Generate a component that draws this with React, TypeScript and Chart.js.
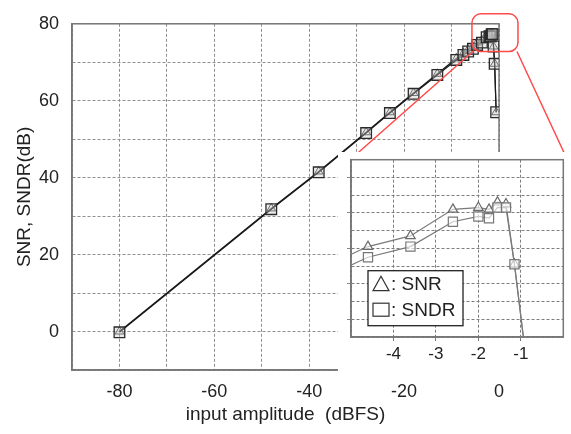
import React, { useEffect, useRef } from "react";
import { Chart, registerables } from "chart.js";

Chart.register(...registerables);

// ---- data ----
const inputDbfs = [-80, -48, -38, -28, -23, -18, -13, -9, -7.5, -6.5, -5.5, -4.6, -3.6, -2.6, -2.0, -1.75, -1.55, -1.35, -1.15, -0.92, -0.6];
const snrDb = [0, 32, 41.6, 51.8, 57, 62, 67, 71, 72.4, 73.3, 74.1, 75.1, 75.7, 77.2, 77.3, 77.2, 77.6, 77.5, 74.1, 69.6, 57];
const sndrDb = [-0.2, 31.8, 41.4, 51.6, 56.8, 61.8, 66.7, 70.6, 71.9, 72.8, 73.5, 74.5, 75.1, 76.5, 76.8, 76.7, 77.3, 77.3, 74.1, 69.6, 57];

const mainXTickLabels = [-80, -60, -40, -20, 0];
const mainYTickLabels = [0, 20, 40, 60, 80];
const insetXTickLabels = [-4, -3, -2, -1];
const legendLabels = [": SNR", ": SNDR"];

const FONT = "'Liberation Sans', Arial, Helvetica, sans-serif";
const INSET_LEFT = 338;
const INSET_TOP = 152;
const INSET_W = 233;
const INSET_H = 220;

const toPoints = (ys: number[]) => inputDbfs.map((x, i) => ({ x, y: ys[i] }));

const framePlugin = (color: string, width: number) => ({
  id: "frame",
  beforeDatasetsDraw(chart: any) {
    const { ctx, chartArea: a } = chart;
    ctx.save();
    ctx.strokeStyle = color;
    ctx.lineWidth = width;
    ctx.setLineDash([]);
    ctx.strokeRect(a.left, a.top, a.right - a.left, a.bottom - a.top);
    ctx.restore();
  },
});

const zoomPlugin = {
  id: "zoomMark",
  afterDraw(chart: any) {
    const { ctx } = chart;
    const xs = chart.scales.x;
    const ys = chart.scales.y;
    const l = xs.getPixelForValue(-5.7);
    const r = xs.getPixelForValue(4);
    const t = ys.getPixelForValue(82.6);
    const b = ys.getPixelForValue(72.8);
    const rad = 9;
    ctx.save();
    ctx.strokeStyle = "#ff4a4a";
    ctx.lineWidth = 1.5;
    ctx.beginPath();
    ctx.moveTo(l + rad, t);
    ctx.arcTo(r, t, r, b, rad);
    ctx.arcTo(r, b, l, b, rad);
    ctx.arcTo(l, b, l, t, rad);
    ctx.arcTo(l, t, r, t, rad);
    ctx.closePath();
    ctx.stroke();
    ctx.beginPath();
    ctx.moveTo(l + 2, b - 1);
    ctx.lineTo(INSET_LEFT + 13, INSET_TOP + 7);
    ctx.moveTo(r - 1, b);
    ctx.lineTo(INSET_LEFT + 229, INSET_TOP + 7);
    ctx.stroke();
    ctx.restore();
  },
};

const whiteBg = {
  id: "whiteBg",
  beforeDraw(chart: any) {
    const { ctx, width, height } = chart;
    ctx.save();
    ctx.fillStyle = "#ffffff";
    ctx.fillRect(0, 0, width, height);
    ctx.restore();
  },
};

const legendPlugin = {
  id: "insetLegend",
  afterDraw(chart: any) {
    const { ctx, chartArea: a } = chart;
    const bx = a.left + 17;
    const by = a.top + 111;
    const bw = 95;
    const bh = 55;
    ctx.save();
    ctx.fillStyle = "#ffffff";
    ctx.fillRect(bx, by, bw, bh);
    ctx.strokeStyle = "#222";
    ctx.lineWidth = 1.3;
    ctx.strokeRect(bx, by, bw, bh);
    const cx = bx + 13;
    const ty = by + 13;
    ctx.lineWidth = 1.2;
    ctx.strokeStyle = "#333";
    ctx.beginPath();
    ctx.moveTo(cx, ty - 7.5);
    ctx.lineTo(cx + 8, ty + 7);
    ctx.lineTo(cx - 8, ty + 7);
    ctx.closePath();
    ctx.stroke();
    const sy = by + 39;
    ctx.strokeRect(cx - 8, sy - 6.5, 16, 13);
    ctx.fillStyle = "#222";
    ctx.font = `19px ${FONT}`;
    ctx.textBaseline = "middle";
    ctx.textAlign = "left";
    ctx.fillText(legendLabels[0], bx + 23, ty + 1);
    ctx.fillText(legendLabels[1], bx + 23, sy + 1);
    ctx.restore();
  },
};

export default function App() {
  const mainRef = useRef<HTMLCanvasElement | null>(null);
  const insetRef = useRef<HTMLCanvasElement | null>(null);

  useEffect(() => {
    if (!mainRef.current || !insetRef.current) return;
    const gridColor = "#8f8f8f";

    const main = new Chart(mainRef.current, {
      type: "line",
      data: {
        datasets: [
          {
            label: "SNDR",
            data: toPoints(sndrDb),
            borderColor: "#1a1a1a",
            borderWidth: 1.2,
            pointStyle: "rect",
            pointRadius: 7.5,
            pointBorderColor: "#2a2a2a",
            pointBorderWidth: 1.3,
            pointBackgroundColor: "rgba(200,200,200,0.35)",
            tension: 0,
          },
          {
            label: "SNR",
            data: toPoints(snrDb),
            borderColor: "#1a1a1a",
            borderWidth: 1.2,
            pointStyle: "triangle",
            pointRadius: 5,
            pointBorderColor: "#444",
            pointBorderWidth: 1,
            pointBackgroundColor: "rgba(220,220,220,0.3)",
            tension: 0,
          },
        ],
      },
      options: {
        responsive: false,
        animation: false,
        layout: { padding: { top: 18, right: 72, left: 0, bottom: 0 } },
        plugins: { legend: { display: false }, tooltip: { enabled: false } },
        scales: {
          x: {
            type: "linear",
            min: -90,
            max: 0,
            ticks: {
              stepSize: 10,
              autoSkip: false,
              maxRotation: 0,
              padding: 11,
              color: "#222",
              font: { size: 18, family: FONT },
              callback: (v: any) => (mainXTickLabels.includes(Number(v)) ? String(v) : ""),
            },
            grid: { color: gridColor, drawTicks: false, lineWidth: 1 },
            border: { display: true, color: "#777", width: 1.5, dash: [3, 2] },
            title: {
              display: true,
              text: "input amplitude  (dBFS)",
              color: "#222",
              font: { size: 19, family: FONT },
              padding: { top: 0, bottom: 8 },
            },
            afterFit: (s: any) => {
              s.height = 64;
            },
          },
          y: {
            type: "linear",
            min: -10,
            max: 80,
            ticks: {
              stepSize: 10,
              autoSkip: false,
              padding: 13,
              color: "#222",
              font: { size: 18, family: FONT },
              callback: (v: any) => (mainYTickLabels.includes(Number(v)) ? String(v) : ""),
            },
            grid: { color: gridColor, drawTicks: false, lineWidth: 1 },
            border: { display: true, color: "#777", width: 1.5, dash: [3, 2] },
            title: {
              display: true,
              text: "SNR, SNDR(dB)",
              color: "#222",
              font: { size: 19, family: FONT },
              padding: { top: 13, bottom: 0 },
            },
            afterFit: (s: any) => {
              s.width = 72;
            },
          },
        },
      },
      plugins: [framePlugin("#777", 1.5), zoomPlugin],
    } as any);

    const inset = new Chart(insetRef.current, {
      type: "line",
      data: {
        datasets: [
          {
            label: "SNDR",
            data: toPoints(sndrDb),
            borderColor: "#7a7a7a",
            borderWidth: 1.2,
            pointStyle: "rect",
            pointRadius: 6.5,
            pointBorderColor: "#777",
            pointBorderWidth: 1.2,
            pointBackgroundColor: "rgba(255,255,255,0.6)",
            tension: 0,
            clip: 0,
          },
          {
            label: "SNR",
            data: toPoints(snrDb),
            borderColor: "#7a7a7a",
            borderWidth: 1.2,
            pointStyle: "triangle",
            pointRadius: 5.5,
            pointBorderColor: "#6a6a6a",
            pointBorderWidth: 1.2,
            pointBackgroundColor: "rgba(255,255,255,0.6)",
            tension: 0,
            clip: 0,
          },
        ],
      },
      options: {
        responsive: false,
        animation: false,
        layout: { padding: { top: 7, right: 3, left: 0, bottom: 0 } },
        plugins: { legend: { display: false }, tooltip: { enabled: false } },
        scales: {
          x: {
            type: "linear",
            min: -5,
            max: 0,
            ticks: {
              stepSize: 1,
              autoSkip: false,
              maxRotation: 0,
              padding: 3,
              color: "#222",
              font: { size: 17, family: FONT },
              callback: (v: any) => (insetXTickLabels.includes(Number(v)) ? String(v) : ""),
            },
            grid: {
              color: "#7d7d7d",
              drawTicks: true,
              tickLength: 4,
              tickColor: (c: any) =>
                c.tick && insetXTickLabels.includes(c.tick.value) ? "#777" : "rgba(0,0,0,0)",
            },
            border: { display: true, color: "#777", width: 1.5, dash: [3, 2] },
            afterFit: (s: any) => {
              s.height = 35;
            },
          },
          y: {
            type: "linear",
            min: 70,
            max: 80,
            ticks: { stepSize: 1, display: false },
            grid: {
              color: "#7d7d7d",
              drawTicks: true,
              tickLength: 4,
              tickColor: (c: any) =>
                c.tick && Math.round(c.tick.value) % 2 === 1 ? "#888" : "rgba(0,0,0,0)",
            },
            border: { display: true, color: "#777", width: 1.5, dash: [3, 2] },
            afterFit: (s: any) => {
              s.width = 13;
            },
          },
        },
      },
      plugins: [whiteBg, framePlugin("#777", 1.5), legendPlugin],
    } as any);

    return () => {
      main.destroy();
      inset.destroy();
    };
  }, []);

  return (
    <div style={{ position: "absolute", left: 0, top: 0, width: 571, height: 434, background: "#fff", overflow: "hidden" }}>
      <canvas
        ref={mainRef}
        width={571}
        height={434}
        style={{ position: "absolute", left: 0, top: 0, width: 571, height: 434 }}
      />
      <canvas
        ref={insetRef}
        width={INSET_W}
        height={INSET_H}
        style={{ position: "absolute", left: INSET_LEFT, top: INSET_TOP, width: INSET_W, height: INSET_H }}
      />
    </div>
  );
}
